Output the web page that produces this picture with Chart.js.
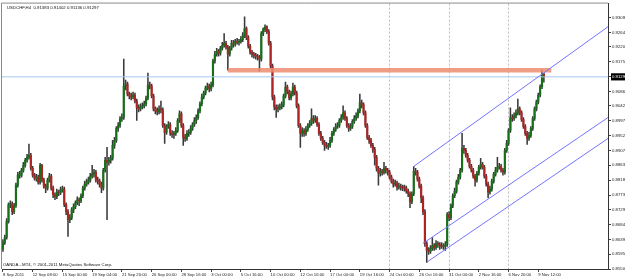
<!DOCTYPE html>
<html lang="en">
<head>
<meta charset="UTF-8">
<title>USDCHF,H4</title>
<script src="https://cdn.jsdelivr.net/npm/chart.js"></script>
<style>
  html, body { margin: 0; padding: 0; background: #fff; }
</style>
</head>
<body>
<canvas id="chart" width="625" height="278"></canvas>
<script>
// USDCHF H4, prices in pips (x 0.0001)
const symbol = 'USDCHF,H4';
const copyright = 'OANDA - MT4, \u00a9 2001-2011 MetaQuotes Software Corp.';

const opens = [
  8609,8630,8645,8693,8744,8747,8723,8741,8803,8833,
  8833,8848,8863,8878,8887,8893,8854,8833,8824,8827,
  8812,8863,8818,8800,8794,8818,8830,8794,8774,8768,
  8782,8780,8788,8791,8744,8723,8699,8705,8729,8738,
  8750,8759,8756,8771,8794,8806,8812,8818,8830,8836,
  8842,8818,8815,8806,8794,8848,8878,8872,8878,8884,
  8923,8938,8974,8983,9004,9007,9102,9108,9078,9072,
  9069,9075,9057,9036,9033,9039,9042,9048,9066,9105,
  9102,9072,9033,9027,9024,9033,9030,8983,8962,8980,
  8986,8959,8956,8959,8968,8998,9018,8983,8947,8944,
  8959,8962,8974,8986,8998,9007,9027,9048,9069,9081,
  9096,9102,9093,9105,9177,9198,9207,9201,9216,9225,
  9231,9219,9198,9216,9231,9228,9237,9234,9237,9242,
  9254,9275,9248,9222,9204,9198,9195,9192,9189,9183,
  9260,9272,9281,9266,9231,9162,9069,9039,9033,9036,
  9039,9045,9072,9099,9084,9066,9078,9099,9081,9042,
  8983,8959,8968,8959,8971,8983,8989,9004,8998,9004,
  8986,8959,8944,8932,8923,8920,8923,8938,8959,8971,
  8980,8983,8998,9007,9021,9004,8983,8974,8980,8995,
  9004,9012,9027,9051,9045,9021,8983,8947,8938,8923,
  8911,8887,8854,8839,8845,8842,8854,8848,8842,8827,
  8815,8806,8809,8797,8800,8797,8795,8794,8785,8777,
  8753,8777,8845,8842,8821,8800,8765,8723,8627,8606,
  8603,8612,8621,8615,8627,8624,8618,8621,8618,8624,
  8714,8705,8741,8771,8785,8812,8827,8848,8914,8908,
  8893,8878,8860,8848,8830,8818,8839,8857,8866,8857,
  8830,8806,8782,8791,8815,8836,8848,8857,8860,8848,
  8842,8908,8929,8968,9007,9004,9012,9021,9033,9021,
  9001,8980,8959,8944,8953,8974,9004,9033,9054,9075,
  9100,9138.3
];
const highs = [
  8639,8652,8702,8750,8756,8753,8748,8809,8842,8845,
  8854,8872,8884,8896,8927,8899,8860,8839,8836,8833,
  8869,8866,8824,8806,8824,8839,8836,8800,8780,8791,
  8788,8797,8800,8797,8750,8729,8714,8735,8747,8756,
  8768,8765,8777,8800,8815,8821,8827,8839,8863,8851,
  8848,8827,8821,8812,8854,8887,8917,8887,8893,8938,
  8947,8980,8992,9010,9018,9183,9120,9114,9084,9081,
  9084,9081,9063,9045,9048,9051,9057,9072,9141,9114,
  9108,9078,9039,9036,9042,9057,9036,8989,8986,8995,
  8992,8968,8965,8977,9004,9027,9024,8989,8956,8968,
  8971,8983,8992,9007,9015,9033,9054,9078,9087,9102,
  9111,9108,9114,9183,9207,9216,9213,9222,9234,9260,
  9237,9225,9222,9240,9240,9243,9246,9243,9251,9263,
  9311,9281,9254,9228,9210,9204,9201,9198,9195,9266,
  9278,9287,9284,9272,9237,9168,9075,9045,9045,9048,
  9054,9078,9114,9105,9090,9087,9111,9105,9087,9048,
  8989,8977,8974,8980,8989,8998,9033,9013,9013,9010,
  8992,8965,8950,8938,8932,8929,8947,8965,8977,8989,
  8992,9004,9016,9042,9027,9010,8989,8989,9001,9013,
  9021,9033,9078,9060,9051,9027,8989,8953,8944,8929,
  8917,8893,8860,8854,8851,8872,8860,8854,8848,8833,
  8821,8818,8815,8809,8806,8803,8803,8800,8791,8783,
  8783,8860,8854,8848,8827,8806,8771,8729,8633,8615,
  8621,8645,8627,8636,8633,8630,8630,8627,8633,8720,
  8723,8747,8777,8794,8818,8836,8854,8959,8923,8914,
  8899,8884,8866,8854,8836,8845,8863,8884,8872,8863,
  8836,8812,8800,8821,8842,8857,8887,8869,8866,8854,
  8914,8938,8974,9036,9016,9021,9030,9063,9039,9027,
  9007,8986,8965,8962,8980,9010,9039,9060,9081,9106,
  9150,9140.2
];
const lows = [
  8603,8624,8640,8688,8735,8714,8717,8736,8797,8824,
  8827,8842,8857,8872,8881,8848,8827,8818,8815,8806,
  8806,8812,8794,8780,8788,8812,8788,8765,8759,8762,
  8771,8774,8782,8738,8714,8648,8690,8699,8720,8732,
  8744,8741,8750,8765,8788,8800,8806,8812,8824,8827,
  8812,8806,8797,8780,8788,8842,8699,8863,8869,8878,
  8914,8932,8965,8977,8995,9001,9090,9072,9063,9060,
  9063,9051,8998,9024,9027,9033,9036,9042,9060,9093,
  9066,9027,9018,9015,9018,9021,8977,8929,8956,8974,
  8953,8947,8944,8953,8962,8992,8977,8923,8935,8938,
  8950,8956,8968,8980,8989,9001,9021,9042,9063,9075,
  9090,9084,9087,9099,9171,9192,9192,9195,9210,9219,
  9213,9150,9192,9210,9219,9222,9228,9225,9231,9236,
  9248,9242,9216,9198,9189,9186,9183,9180,9147,9177,
  9254,9266,9260,9225,9156,9060,9030,9007,9024,9030,
  9033,9039,9066,9078,9060,9060,9072,9075,9036,8977,
  8917,8950,8950,8953,8965,8977,8983,8989,8992,8980,
  8953,8938,8926,8908,8914,8911,8917,8932,8953,8965,
  8974,8977,8992,9001,8998,8977,8965,8968,8974,8989,
  8998,9006,9021,9036,9015,8977,8941,8929,8917,8902,
  8863,8845,8803,8830,8833,8836,8839,8833,8821,8809,
  8797,8800,8788,8791,8788,8786,8785,8779,8768,8735,
  8747,8771,8833,8815,8794,8750,8714,8618,8570,8594,
  8597,8606,8606,8609,8615,8609,8612,8609,8606,8618,
  8696,8699,8735,8765,8779,8806,8821,8842,8899,8887,
  8872,8854,8842,8824,8800,8812,8833,8851,8851,8824,
  8800,8765,8776,8785,8809,8830,8842,8851,8842,8833,
  8836,8902,8923,8962,8995,8998,9006,9015,9015,8995,
  8974,8953,8926,8938,8947,8968,8998,9027,9048,9069,
  9094,9113.6
];
const closes = [
  8630,8645,8693,8744,8747,8723,8741,8803,8833,8833,
  8848,8863,8878,8887,8893,8854,8833,8824,8827,8812,
  8863,8818,8800,8794,8818,8830,8794,8774,8768,8782,
  8780,8788,8791,8744,8723,8699,8705,8729,8738,8750,
  8759,8756,8771,8794,8806,8812,8818,8830,8836,8842,
  8818,8815,8806,8794,8848,8878,8872,8878,8884,8923,
  8938,8974,8983,9004,9007,9102,9108,9078,9072,9069,
  9075,9057,9036,9033,9039,9042,9048,9066,9105,9102,
  9072,9033,9027,9024,9033,9030,8983,8962,8980,8986,
  8959,8956,8959,8968,8998,9018,8983,8947,8944,8959,
  8962,8974,8986,8998,9007,9027,9048,9069,9081,9096,
  9102,9093,9105,9177,9198,9207,9201,9216,9225,9231,
  9219,9198,9216,9231,9228,9237,9234,9237,9242,9254,
  9275,9248,9222,9204,9198,9195,9192,9189,9183,9260,
  9272,9281,9266,9231,9162,9069,9039,9033,9036,9039,
  9045,9072,9099,9084,9066,9078,9099,9081,9042,8983,
  8959,8968,8959,8971,8983,8989,9004,8998,9004,8986,
  8959,8944,8932,8923,8920,8923,8938,8959,8971,8980,
  8983,8998,9007,9021,9004,8983,8974,8980,8995,9004,
  9012,9027,9051,9045,9021,8983,8947,8938,8923,8911,
  8887,8854,8839,8845,8842,8854,8848,8842,8827,8815,
  8806,8809,8797,8800,8797,8795,8794,8785,8777,8753,
  8777,8845,8842,8821,8800,8765,8723,8627,8606,8603,
  8612,8621,8615,8627,8624,8618,8621,8618,8624,8714,
  8705,8741,8771,8785,8812,8827,8848,8914,8908,8893,
  8878,8860,8848,8830,8818,8839,8857,8866,8857,8830,
  8806,8782,8791,8815,8836,8848,8857,8860,8848,8842,
  8908,8929,8968,9007,9004,9012,9021,9033,9021,9001,
  8980,8959,8944,8953,8974,9004,9033,9054,9075,9100,
  9138,9129.7
];

// time axis: one label every 16 bars
const dateLabels = ['8 Sep 2011','12 Sep 08:00','15 Sep 00:00','19 Sep 04:00','21 Sep 20:00',
  '26 Sep 00:00','28 Sep 16:00','3 Oct 00:00','5 Oct 16:00','10 Oct 00:00','12 Oct 16:00',
  '17 Oct 00:00','19 Oct 16:00','24 Oct 00:00','26 Oct 16:00','31 Oct 00:00','2 Nov 16:00',
  '6 Nov 20:00','9 Nov 12:00'];
const labelBars = [0,16,32,48,64,80,96,112,128,144,160,176,192,208,224,240,256,272,288];
const separatorBars = [208, 240, 272];

// price scale
const priceTicks = [0.93090,0.92640,0.92200,0.91750,0.91297,0.90860,0.90420,0.89970,0.89520,
  0.89070,0.88630,0.88180,0.87730,0.87290,0.86840,0.86390,0.85950,0.85500];
const bid = 0.91297;

// drawn objects: [bar, price]
const resistance = [[121, 0.9150], [295, 0.9150]];
const channelUpper = [[220.6, 0.8858], [325.5, 0.9281]];
const channelMiddle = [[225.9, 0.8627], [325.5, 0.9007]];
const channelLower = [[228.1, 0.8571], [325.5, 0.8944]];

const p = v => v / 10000;
const bodies = closes.map((c, i) => ({ x: i, y: [p(opens[i]), p(c)] }));
const wicks = highs.map((h, i) => ({ x: i, y: [p(lows[i]), p(h)] }));
const bodyColors = closes.map((c, i) => c >= opens[i] ? '#16701a' : '#ad2424');
const pts = arr => arr.map(([x, y]) => ({ x, y }));

Chart.defaults.font.family = '"Liberation Sans", Arial, sans-serif';

const frame = {
  id: 'frame',
  afterDraw(chart) {
    const { ctx, chartArea: a } = chart;
    const last = closes.length - 1;
    ctx.save();
    ctx.strokeStyle = '#8a8a8a';
    ctx.lineWidth = 1;
    ctx.beginPath();
    ctx.moveTo(a.left - 0.5, a.bottom);
    ctx.lineTo(a.left - 0.5, a.top - 0.5);
    ctx.lineTo(a.right, a.top - 0.5);
    ctx.stroke();
    ctx.fillStyle = '#111';
    ctx.font = '4.3px "Liberation Sans"';
    ctx.textBaseline = 'middle';
    const head = [opens[last], highs[last], lows[last], closes[last]].map(v => p(v).toFixed(5)).join(' ');
    ctx.fillText(symbol + '  ' + head, a.left + 5, a.top + 4);
    ctx.fillText(copyright, a.left + 1, a.bottom - 4);
    ctx.restore();
  }
};

new Chart(document.getElementById('chart'), {
  type: 'bar',
  data: {
    datasets: [
      { type: 'line', data: pts(channelUpper), borderColor: '#7474ff', borderWidth: 1, pointRadius: 0, order: 0 },
      { type: 'line', data: pts(channelMiddle), borderColor: '#7474ff', borderWidth: 1, pointRadius: 0, order: 0 },
      { type: 'line', data: pts(channelLower), borderColor: '#7474ff', borderWidth: 1, pointRadius: 0, order: 0 },
      { type: 'line', data: pts(resistance), borderColor: 'rgba(236,140,112,0.85)', borderWidth: 4.5, pointRadius: 0, order: 1 },
      { type: 'line', data: [{ x: -0.5, y: bid }, { x: 325.5, y: bid }], borderColor: '#a6c8ee', borderWidth: 1, pointRadius: 0, order: 1 },
      { data: bodies, backgroundColor: bodyColors, barThickness: 1.5, grouped: false, minBarLength: 1, order: 2 },
      { data: wicks, backgroundColor: '#3a3a3a', barThickness: 0.9, grouped: false, order: 3 }
    ]
  },
  options: {
    responsive: false,
    animation: false,
    devicePixelRatio: 1,
    layout: { padding: { left: 2, top: 1, right: 0, bottom: 0 } },
    plugins: { legend: { display: false }, tooltip: { enabled: false } },
    scales: {
      x: {
        type: 'linear',
        min: -0.5,
        max: 325.5,
        offset: false,
        afterBuildTicks: s => { s.ticks = labelBars.map(v => ({ value: v })); },
        afterFit: s => { s.height = 9; },
        ticks: {
          autoSkip: false,
          maxRotation: 0,
          align: 'start',
          padding: 0,
          color: '#222',
          font: { size: 4.2 },
          callback: (v, i) => dateLabels[i]
        },
        grid: {
          offset: false,
          lineWidth: 1,
          color: c => (c.tick && separatorBars.includes(c.tick.value)) ? '#bdbdbd' : 'rgba(0,0,0,0)',
          tickColor: '#444',
          tickLength: 3
        },
        border: { color: '#333', dash: [2, 2] }
      },
      y: {
        position: 'right',
        min: 0.85500,
        max: 0.93508,
        afterBuildTicks: s => { s.ticks = priceTicks.map(v => ({ value: v })); },
        afterFit: s => { s.width = 17; },
        ticks: {
          padding: 1,
          font: { size: 4.3 },
          color: c => Math.abs(c.tick.value - bid) < 1e-7 ? '#fff' : '#222',
          showLabelBackdrop: true,
          backdropColor: c => Math.abs(c.tick.value - bid) < 1e-7 ? '#000' : 'rgba(0,0,0,0)',
          backdropPadding: { top: 1, bottom: 1, left: 1, right: 8 },
          callback: v => v.toFixed(5)
        },
        grid: { drawOnChartArea: false, tickColor: '#444', tickLength: 3 },
        border: { color: '#333' }
      }
    }
  },
  plugins: [frame]
});
</script>
</body>
</html>
